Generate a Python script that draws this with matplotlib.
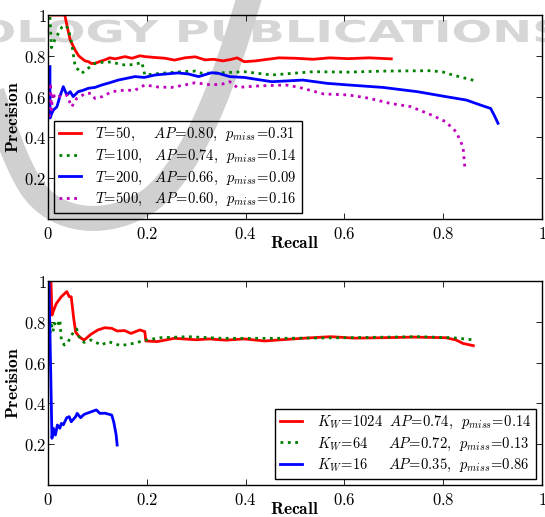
import numpy as np
import matplotlib
matplotlib.use('Agg')
from matplotlib import pyplot as plt
from matplotlib.path import Path
from matplotlib.patches import PathPatch
from matplotlib.textpath import TextPath
from matplotlib.font_manager import FontProperties
from matplotlib.ticker import FuncFormatter
import matplotlib.transforms as mtransforms

plt.rcParams['mathtext.fontset'] = 'cm'
plt.rcParams['xtick.direction'] = 'in'
plt.rcParams['ytick.direction'] = 'in'
plt.rcParams['xtick.top'] = True
plt.rcParams['ytick.right'] = True

TICK_FS = 12
LABEL_FS = 12.5
LEG_FS = 10.5

# ---- top panel: window length T ----
T50_recall = [0.0, 0.034, 0.040, 0.045, 0.055, 0.062, 0.068, 0.075, 0.082, 0.088, 0.095,
              0.105, 0.115, 0.125, 0.136, 0.156, 0.170, 0.186, 0.196, 0.215, 0.237,
              0.256, 0.277, 0.298, 0.318, 0.335, 0.354, 0.370, 0.383, 0.397, 0.420,
              0.467, 0.500, 0.537, 0.570, 0.608, 0.650, 0.695]
T50_prec = [1.0, 1.0, 0.93, 0.877, 0.828, 0.80, 0.788, 0.775, 0.771, 0.762, 0.763,
            0.772, 0.78, 0.79, 0.785, 0.796, 0.788, 0.80, 0.796, 0.792, 0.788,
            0.779, 0.79, 0.795, 0.78, 0.783, 0.775, 0.782, 0.79, 0.771, 0.775,
            0.79, 0.788, 0.783, 0.79, 0.786, 0.790, 0.785]

T100_recall = [0.004, 0.007, 0.014, 0.021, 0.028, 0.034, 0.041, 0.048, 0.055, 0.062, 0.068,
               0.082, 0.095, 0.110, 0.129, 0.143, 0.156, 0.175, 0.190, 0.196, 0.228,
               0.270, 0.298, 0.312, 0.354, 0.397, 0.453, 0.500, 0.537, 0.608, 0.678,
               0.776, 0.800, 0.819, 0.861]
T100_prec = [0.99, 0.84, 0.88, 0.91, 0.94, 0.95, 0.935, 0.86, 0.747, 0.73, 0.714,
             0.74, 0.763, 0.768, 0.77, 0.76, 0.755, 0.757, 0.768, 0.706, 0.714,
             0.722, 0.725, 0.714, 0.717, 0.722, 0.706, 0.715, 0.722, 0.720, 0.725,
             0.727, 0.72, 0.706, 0.68]

T200_recall = [0.004, 0.004, 0.008, 0.011, 0.018, 0.024, 0.031, 0.038, 0.045, 0.051, 0.061,
               0.070, 0.082, 0.095, 0.109, 0.125, 0.142, 0.160, 0.176, 0.195, 0.217,
               0.240, 0.263, 0.284, 0.305, 0.331, 0.345, 0.368, 0.397, 0.453, 0.516,
               0.565, 0.608, 0.678, 0.748, 0.805, 0.847, 0.875, 0.896, 0.903, 0.911]
T200_prec = [0.747, 0.495, 0.52, 0.534, 0.55, 0.60, 0.649, 0.608, 0.624, 0.60, 0.624,
             0.63, 0.641, 0.645, 0.657, 0.668, 0.681, 0.69, 0.698, 0.694, 0.706,
             0.711, 0.716, 0.711, 0.698, 0.717, 0.714, 0.698, 0.694, 0.673, 0.681,
             0.665, 0.657, 0.645, 0.624, 0.60, 0.583, 0.559, 0.542, 0.51, 0.469]

T500_recall = [0.003, 0.005, 0.007, 0.010, 0.014, 0.021, 0.028, 0.038, 0.048, 0.058, 0.066,
               0.075, 0.087, 0.095, 0.110, 0.129, 0.156, 0.175, 0.196, 0.223, 0.250,
               0.277, 0.298, 0.331, 0.354, 0.368, 0.383, 0.425, 0.481, 0.509, 0.558,
               0.608, 0.650, 0.692, 0.734, 0.776, 0.805, 0.826, 0.840, 0.844]
T500_prec = [0.50, 0.667, 0.534, 0.62, 0.593, 0.60, 0.60, 0.608, 0.55, 0.591, 0.60,
             0.616, 0.616, 0.591, 0.60, 0.624, 0.632, 0.63, 0.657, 0.647, 0.645,
             0.657, 0.668, 0.657, 0.662, 0.673, 0.645, 0.652, 0.657, 0.645, 0.613,
             0.608, 0.592, 0.567, 0.551, 0.51, 0.477, 0.428, 0.355, 0.248]

TOP_LABELS = [
    r'$T\!=\!50,\ \ \ \ AP\!=\!0.80,\ \,p_{miss}\!=\!0.31$',
    r'$T\!=\!100,\ \ \,AP\!=\!0.74,\ \,p_{miss}\!=\!0.14$',
    r'$T\!=\!200,\ \ \,AP\!=\!0.66,\ \,p_{miss}\!=\!0.09$',
    r'$T\!=\!500,\ \ \,AP\!=\!0.60,\ \,p_{miss}\!=\!0.16$',
]

# ---- bottom panel: vocabulary size K_W ----
K1024_recall = [0.0, 0.006, 0.008, 0.012, 0.017, 0.027, 0.038, 0.043, 0.047, 0.052, 0.056,
                0.063, 0.073, 0.087, 0.101, 0.115, 0.129, 0.140, 0.155, 0.168, 0.186,
                0.196, 0.198, 0.221, 0.256, 0.300, 0.326, 0.360, 0.397, 0.439, 0.467,
                0.520, 0.572, 0.620, 0.678, 0.740, 0.805, 0.826, 0.840, 0.861]
K1024_prec = [1.0, 1.0, 0.833, 0.86, 0.89, 0.923, 0.948, 0.923, 0.923, 0.817, 0.75,
              0.727, 0.71, 0.739, 0.76, 0.771, 0.768, 0.755, 0.757, 0.743, 0.76,
              0.752, 0.706, 0.703, 0.719, 0.712, 0.716, 0.71, 0.716, 0.706, 0.711,
              0.72, 0.727, 0.72, 0.722, 0.725, 0.722, 0.711, 0.694, 0.683]

K64_recall = [0.002, 0.006, 0.010, 0.013, 0.018, 0.024, 0.027, 0.033, 0.041, 0.052, 0.058,
              0.063, 0.073, 0.087, 0.108, 0.122, 0.147, 0.172, 0.200, 0.228, 0.284,
              0.354, 0.467, 0.608, 0.748, 0.819, 0.864]
K64_prec = [0.67, 0.80, 0.752, 0.793, 0.776, 0.81, 0.711, 0.686, 0.703, 0.752, 0.765,
            0.727, 0.699, 0.711, 0.686, 0.703, 0.683, 0.694, 0.711, 0.722, 0.727,
            0.719, 0.719, 0.722, 0.727, 0.722, 0.711]

K16_recall = [0.002, 0.008, 0.011, 0.015, 0.019, 0.024, 0.027, 0.031, 0.038, 0.043, 0.047,
              0.056, 0.059, 0.066, 0.073, 0.084, 0.098, 0.105, 0.115, 0.129, 0.133,
              0.138, 0.140]
K16_prec = [1.0, 0.229, 0.278, 0.245, 0.294, 0.278, 0.302, 0.295, 0.33, 0.335, 0.31,
            0.335, 0.351, 0.33, 0.346, 0.356, 0.368, 0.351, 0.352, 0.343, 0.31,
            0.245, 0.196]

BOTTOM_LABELS = [
    r'$K_W\!=\!1024\ \ AP\!=\!0.74,\ \,p_{miss}\!=\!0.14$',
    r'$K_W\!=\!64\quad\ \ AP\!=\!0.72,\ \,p_{miss}\!=\!0.13$',
    r'$K_W\!=\!16\quad\ \ AP\!=\!0.35,\ \,p_{miss}\!=\!0.86$',
]

TICKS = [0, 0.2, 0.4, 0.6, 0.8, 1.0]
YTICKS = [0.2, 0.4, 0.6, 0.8, 1.0]

W, H = 545, 517


def bold_fmt(v, pos):
    return r'$\mathbf{%g}$' % v


def style_axes(ax):
    ax.set_facecolor('none')
    ax.set_xlim(0, 1)
    ax.set_ylim(0, 1)
    ax.set_xticks(TICKS)
    ax.set_yticks(YTICKS)
    ax.xaxis.set_major_formatter(FuncFormatter(bold_fmt))
    ax.yaxis.set_major_formatter(FuncFormatter(bold_fmt))
    ax.tick_params(labelsize=TICK_FS, length=4, width=0.6)
    ax.tick_params(axis='x', pad=4)
    ax.tick_params(axis='y', pad=1)
    for s in ax.spines.values():
        s.set_linewidth(1.0)
    ax.set_xlabel(r'$\mathbf{Recall}$', fontsize=LABEL_FS, labelpad=-6)
    ax.set_ylabel(r'$\mathbf{Precision}$', fontsize=LABEL_FS, labelpad=1)


def add_legend(ax, loc):
    leg = ax.legend(loc=loc, fontsize=LEG_FS, handlelength=1.5, handletextpad=1.0,
                    labelspacing=0.3, borderpad=0.35, borderaxespad=0.4,
                    fancybox=False, framealpha=1)
    leg.get_frame().set_facecolor('none')
    leg.get_frame().set_edgecolor('black')
    return leg


def add_watermark(fig):
    # faint publisher watermark behind the plots
    fp = FontProperties(family='DejaVu Sans', weight='bold')
    tp = TextPath((0, 0), 'OLOGY PUBLICATIONS', size=1, prop=fp)
    bb = tp.get_extents()
    sx = 585 / bb.width
    sy = 22 / 0.73
    tr = mtransforms.Affine2D().scale(sx, sy).translate(-22 - bb.x0 * sx, H - 42)
    fig.add_artist(PathPatch(tp, transform=tr, facecolor='#d6d6d6',
                             edgecolor='none', zorder=-2))

    pts = [(250, -5), (225, 80), (195, 165), (150, 200),
           (110, 228), (55, 225), (30, 185),
           (15, 160), (5, 130), (-8, 92)]
    codes = [Path.MOVETO] + [Path.CURVE4] * 9
    verts = [(x, H - y) for x, y in pts]
    fig.add_artist(PathPatch(Path(verts, codes), transform=mtransforms.IdentityTransform(),
                             facecolor='none', edgecolor='#d0d0d0', lw=18,
                             capstyle='butt', zorder=-1))


fig = plt.figure(figsize=(W / 100, H / 100), dpi=100)
add_watermark(fig)

ax1 = fig.add_axes([48 / W, 1 - 219 / H, 494 / W, 204 / H])
ax1.plot(T50_recall, T50_prec, color='r', lw=2, label=TOP_LABELS[0])
ax1.plot(T100_recall, T100_prec, color='g', lw=2, ls=':', label=TOP_LABELS[1])
ax1.plot(T200_recall, T200_prec, color='b', lw=2, label=TOP_LABELS[2])
ax1.plot(T500_recall, T500_prec, color='m', lw=2, ls=':', label=TOP_LABELS[3])
style_axes(ax1)
add_legend(ax1, 'lower left')

ax2 = fig.add_axes([48 / W, 1 - 485 / H, 494 / W, 204 / H])
ax2.plot(K1024_recall, K1024_prec, color='r', lw=2, label=BOTTOM_LABELS[0])
ax2.plot(K64_recall, K64_prec, color='g', lw=2, ls=':', label=BOTTOM_LABELS[1])
ax2.plot(K16_recall, K16_prec, color='b', lw=2, label=BOTTOM_LABELS[2])
style_axes(ax2)
add_legend(ax2, 'lower right')

fig.savefig('out.png', dpi=100)
